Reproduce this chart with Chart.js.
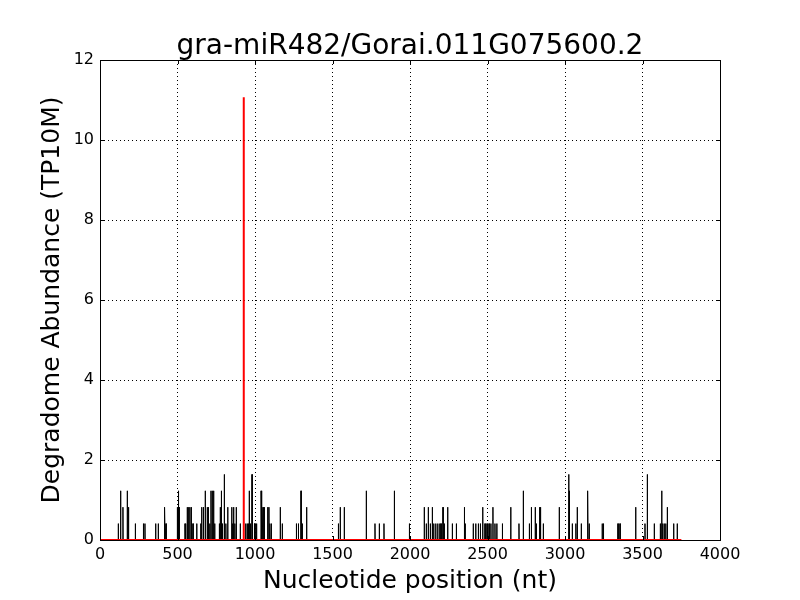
<!DOCTYPE html>
<html>
<head>
<meta charset="utf-8">
<title>gra-miR482/Gorai.011G075600.2</title>
<script src="https://cdn.jsdelivr.net/npm/chart.js@4/dist/chart.umd.min.js"></script>
<style>
  body { margin: 0; background: #fff; }
  canvas { display: block; }
</style>
</head>
<body>
<canvas id="plot" width="800" height="600"></canvas>
<script>
// degradome tags along the transcript (nt position, abundance in TP10M)
const tagPositions = [
  118, 133, 148, 176, 184, 228, 280, 290, 359, 376, 414, 419, 426, 499, 505, 510,
  548, 553, 563, 572, 580, 589, 600, 624, 650, 656, 667, 679, 692, 699, 708, 716,
  724, 733, 740, 770, 776, 783, 790, 802, 812, 824, 850, 856, 862, 870, 879, 905,
  940, 950, 958, 963, 970, 981, 995, 1000, 1010, 1039, 1045, 1052, 1060, 1082, 1090,
  1096, 1105, 1163, 1176, 1267, 1280, 1297, 1305, 1333, 1538, 1550, 1576, 1718, 1774,
  1802, 1832, 1899, 1996, 2092, 2105, 2118, 2131, 2144, 2153, 2166, 2179, 2192, 2200,
  2213, 2221, 2243, 2273, 2299, 2351, 2356, 2408, 2424, 2441, 2454, 2469, 2484, 2497,
  2510, 2522, 2535, 2548, 2560, 2596, 2650, 2703, 2731, 2770, 2783, 2808, 2815, 2836,
  2842, 2860, 2963, 3024, 3028, 3047, 3070, 3079, 3105, 3144, 3148, 3156, 3240, 3248,
  3342, 3355, 3456, 3516, 3531, 3576, 3615, 3624, 3630, 3640, 3650, 3660, 3701, 3724
];
const tagAbundance = [
  0.41, 1.23, 0.82, 1.23, 0.82, 0.41, 0.41, 0.41, 0.41, 0.41, 0.41, 0.82, 0.41, 0.82, 1.23, 0.82,
  0.41, 0.41, 0.82, 0.82, 0.82, 0.82, 0.41, 0.41, 0.41, 0.82, 0.82, 1.23, 0.82, 0.82, 0.41, 1.23,
  1.23, 1.23, 0.41, 0.41, 0.82, 1.23, 0.41, 1.64, 0.41, 0.82, 0.82, 0.41, 0.82, 0.41, 0.82, 0.41,
  0.41, 0.41, 0.41, 1.23, 0.41, 1.64, 0.41, 0.41, 0.41, 1.23, 0.82, 0.82, 0.82, 0.82, 0.82,
  0.41, 0.41, 0.82, 0.41, 0.41, 0.41, 1.23, 0.41, 0.82, 0.41, 0.82, 0.82, 1.23, 0.41,
  0.41, 0.41, 1.23, 0.41, 0.82, 0.41, 0.82, 0.41, 0.82, 0.41, 0.41, 0.41, 0.41, 0.41,
  0.82, 0.41, 0.82, 0.41, 0.41, 0.82, 0.41, 0.41, 0.41, 0.41, 0.41, 0.82, 0.41, 0.41,
  0.41, 0.41, 0.82, 0.41, 0.41, 0.41, 0.82, 0.41, 1.23, 0.41, 0.82, 0.82, 0.41, 0.82,
  0.82, 0.41, 0.82, 1.64, 1.23, 0.41, 0.41, 0.82, 0.41, 1.23, 1.23, 0.41, 0.41, 0.41,
  0.41, 0.41, 0.82, 0.41, 1.64, 0.41, 0.41, 1.23, 0.41, 0.41, 0.41, 0.82, 0.41, 0.41
];
// miRNA cleavage site
const targetPos = 927;
const targetAbundance = 11.07;
const transcriptLength = 3750;

const xTicks = [0, 500, 1000, 1500, 2000, 2500, 3000, 3500, 4000];
const yTicks = [0, 2, 4, 6, 8, 10, 12];

// each tag is a one-nt spike between zeros, like a plot over every position
function spikes(pos, vals) {
    let pts = [{ x: 0, y: 0 }];
    for (let i = 0; i < pos.length; i++) {
        pts.push({ x: pos[i] - 1, y: 0 });
        pts.push({ x: pos[i], y: vals[i] });
        pts.push({ x: pos[i] + 1, y: 0 });
    }
    pts.push({ x: transcriptLength, y: 0 });
    return pts;
}

const frame = {
    id: 'frame',
    afterDraw(chart) {
        const ctx = chart.ctx;
        const a = chart.chartArea;
        const xs = chart.scales.x, ys = chart.scales.y;
        ctx.save();
        ctx.strokeStyle = '#000';
        ctx.lineWidth = 1;
        ctx.beginPath();
        xTicks.forEach(t => {
            const px = Math.round(xs.getPixelForValue(t)) + 0.5;
            ctx.moveTo(px, a.bottom); ctx.lineTo(px, a.bottom - 4);
            ctx.moveTo(px, a.top); ctx.lineTo(px, a.top + 4);
        });
        yTicks.forEach(t => {
            const py = Math.round(ys.getPixelForValue(t)) + 0.5;
            ctx.moveTo(a.left, py); ctx.lineTo(a.left + 4, py);
            ctx.moveTo(a.right, py); ctx.lineTo(a.right - 4, py);
        });
        ctx.stroke();
        ctx.strokeRect(Math.round(a.left) + 0.5, Math.round(a.top) + 0.5,
            Math.round(a.right - a.left), Math.round(a.bottom - a.top));
        ctx.restore();
    }
};

new Chart(document.getElementById('plot'), {
    type: 'line',
    data: {
        datasets: [
            {
                label: 'cleavage site',
                data: spikes([targetPos], [targetAbundance]),
                borderColor: '#ff0000',
                borderWidth: 2,
                pointRadius: 0,
                tension: 0
            },
            {
                label: 'degradome',
                data: spikes(tagPositions, tagAbundance),
                borderColor: '#000000',
                borderWidth: 1,
                pointRadius: 0,
                tension: 0
            }
        ]
    },
    options: {
        responsive: false,
        animation: false,
        parsing: false,
        layout: { padding: { left: 0, right: 80, top: 0, bottom: 0 } },
        plugins: {
            legend: { display: false },
            tooltip: { enabled: false },
            title: {
                display: true,
                fullSize: false,
                text: 'gra-miR482/Gorai.011G075600.2',
                color: '#000',
                font: { family: 'DejaVu Sans', size: 28, weight: 'normal' },
                padding: { top: 30, bottom: -3.6 }
            }
        },
        scales: {
            x: {
                type: 'linear',
                min: 0,
                max: 4000,
                afterBuildTicks(s) { s.ticks = xTicks.map(v => ({ value: v })); },
                afterFit(s) { s.height = 60; },
                ticks: {
                    color: '#000',
                    padding: 5,
                    maxRotation: 0,
                    font: { family: 'DejaVu Sans', size: 16 },
                    callback: v => String(v)
                },
                grid: { color: '#000', lineWidth: 1, drawTicks: false },
                border: { display: false, dash: [1, 3] },
                title: {
                    display: true,
                    text: 'Nucleotide position (nt)',
                    color: '#000',
                    font: { family: 'DejaVu Sans', size: 25 },
                    padding: { top: 0, bottom: 4 }
                }
            },
            y: {
                type: 'linear',
                min: 0,
                max: 12,
                afterBuildTicks(s) { s.ticks = yTicks.map(v => ({ value: v })); },
                afterFit(s) { s.width = 100; },
                ticks: {
                    color: '#000',
                    padding: 6,
                    font: { family: 'DejaVu Sans', size: 16 },
                    callback: v => String(v)
                },
                grid: { color: '#000', lineWidth: 1, drawTicks: false },
                border: { display: false, dash: [1, 3] },
                title: {
                    display: true,
                    text: 'Degradome Abundance (TP10M)',
                    color: '#000',
                    font: { family: 'DejaVu Sans', size: 25 },
                    padding: { top: 37, bottom: 0 }
                }
            }
        }
    },
    plugins: [frame]
});
</script>
</body>
</html>
